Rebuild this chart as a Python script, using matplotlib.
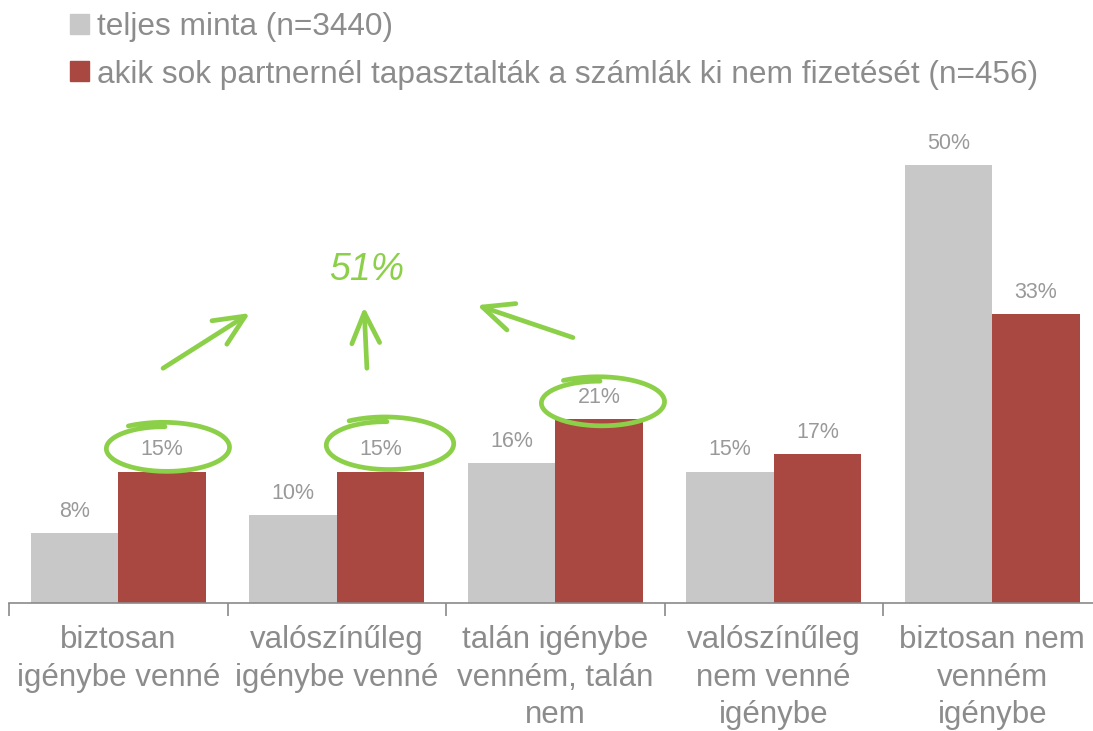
import numpy as np
import matplotlib.pyplot as plt
from matplotlib.patches import Patch

plt.rcParams['font.family'] = ['Liberation Sans', 'DejaVu Sans']

categories = ['biztosan\nigénybe venné', 'valószínűleg\nigénybe venné',
              'talán igénybe\nvenném, talán\nnem', 'valószínűleg\nnem venné\nigénybe',
              'biztosan nem\nvenném\nigénybe']
teljes = [8, 10, 16, 15, 50]
partner = [15, 15, 21, 17, 33]
series_names = ['teljes minta (n=3440)',
                'akik sok partnernél tapasztalták a számlák ki nem fizetését (n=456)']
highlight_total = '51%'

GRAY = '#c8c8c8'
RED = '#a84840'
TEXT = '#8c8c8c'
LABEL = '#999999'
GREEN = '#8cd04a'

fig = plt.figure(figsize=(10.93, 7.31), dpi=100)
ax = fig.add_axes([9 / 1093, 128 / 731, 1092.5 / 1093, 0.719])

x = np.arange(len(categories))
w = 0.4
b1 = ax.bar(x - w / 2, teljes, w, color=GRAY, zorder=2)
b2 = ax.bar(x + w / 2, partner, w, color=RED, zorder=2)

for bars, vals in ((b1, teljes), (b2, partner)):
    for rect, v in zip(bars, vals):
        ax.annotate(f'{v}%', (rect.get_x() + rect.get_width() / 2, v),
                    xytext=(0, 8), textcoords='offset points',
                    ha='center', va='bottom', fontsize=15.5, color=LABEL)

ax.set_xlim(-0.5, len(categories) - 0.5)
ax.set_ylim(0, 60)
for s in ('top', 'right', 'left'):
    ax.spines[s].set_visible(False)
ax.spines['bottom'].set_color('#8a8a8a')
ax.spines['bottom'].set_linewidth(1.2)
ax.set_yticks([])

ax.set_xticks(x)
ax.set_xticklabels(categories, fontsize=22.5, color=TEXT, linespacing=1.32)
ax.tick_params(axis='x', which='major', length=0, pad=16)
ax.set_xticks(np.arange(len(categories) + 1) - 0.5, minor=True)
ax.tick_params(axis='x', which='minor', length=9, width=1.2, color='#8a8a8a')

# hand-drawn circles around the "would use" answers
def sketch_ellipse(cx, cy, rx, ry):
    t = np.linspace(0.68 * np.pi, -1.5 * np.pi, 200)
    shrink = 1.08 - 0.2 * (t[0] - t) / (2.18 * np.pi)
    ax.plot(cx + rx * shrink * np.cos(t), cy + ry * shrink * np.sin(t),
            color=GREEN, lw=3.4, solid_capstyle='round', clip_on=False, zorder=4)

sketch_ellipse(0.214, 17.7, 0.29, 2.75)
sketch_ellipse(1.23, 18.1, 0.30, 2.95)
sketch_ellipse(2.205, 22.9, 0.29, 2.75)

arrow_props = dict(arrowstyle='->,head_length=1.1,head_width=0.5', color=GREEN,
                   lw=3.4, mutation_scale=20, shrinkA=0, shrinkB=0,
                   capstyle='round')
for start, end in (((0.205, 26.8), (0.603, 33.1)),
                   ((1.138, 26.8), (1.125, 33.8)),
                   ((2.081, 30.3), (1.642, 34.0))):
    ax.annotate('', xy=end, xytext=start, arrowprops=arrow_props,
                annotation_clip=False)

ax.text(1.138, 38.0, highlight_total, ha='center', va='center', fontsize=27,
        style='italic', color=GREEN)

handles = [Patch(color=GRAY), Patch(color=RED)]
fig.legend(handles, series_names, loc='upper left', bbox_to_anchor=(0.05, 1.005),
           frameon=False, fontsize=22.8, labelcolor=TEXT, handlelength=0.6,
           handleheight=0.6, handletextpad=0.25, labelspacing=0.55,
           borderaxespad=0.1)

fig.savefig('out.png', dpi=100)
